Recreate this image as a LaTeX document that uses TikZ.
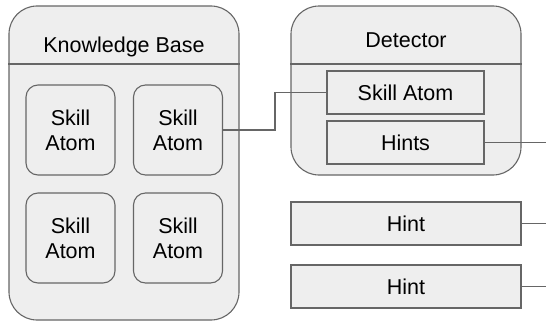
\documentclass[tikz,border=0pt]{standalone}
\usepackage{fontspec}
\setmainfont{Liberation Sans}
\definecolor{boxfill}{HTML}{EEEEEE}
\definecolor{linegray}{HTML}{666666}
\begin{document}
\begin{tikzpicture}[x=1pt,y=-1pt,
  label text/.style={font=\fontsize{21.5}{25}\selectfont, text=black},
  frame/.style={draw=linegray, fill=boxfill, line width=1.1pt},
  container/.style={frame, rounded corners=28pt, inner sep=0pt, minimum width=230pt},
  atom/.style={frame, label text, rounded corners=12pt, minimum width=89pt,
    minimum height=90pt, align=center, inner sep=0pt},
  slot/.style={frame, label text, minimum width=157pt, minimum height=43pt, inner sep=0pt},
  hintbar/.style={frame, label text, minimum width=230pt, minimum height=43pt, inner sep=0pt},
  divider/.style={draw=linegray, line width=1.1pt},
  wire/.style={draw=linegray, line width=1.1pt}]

\useasboundingbox (0,0) rectangle (546,324);

% reference coordinates for the header rules and wire routing
\coordinate (headrule) at (0,64);
\coordinate (route) at (275,0);
\coordinate (rightedge) at (546,0);

% Knowledge Base container
\node[container, minimum height=314pt] (kb) at (124,163) {};
\draw[divider] (kb.west |- headrule) -- (kb.east |- headrule);
\node[label text, anchor=base] (kbtitle) at (124,52) {Knowledge Base};

\node[atom] (a1) at (70.5,130) {Skill\\Atom};
\node[atom] (a2) at (178,130) {Skill\\Atom};
\node[atom] (a3) at (70.5,238) {Skill\\Atom};
\node[atom] (a4) at (178,238) {Skill\\Atom};

% Detector container
\node[container, minimum height=169pt] (det) at (406,90.5) {};
\draw[divider] (det.west |- headrule) -- (det.east |- headrule);
\node[label text, anchor=base] (dettitle) at (406,47) {Detector};

\node[slot] (dskill) at (405.5,92.5) {Skill Atom};
\node[slot] (dhints) at (405.5,142.5) {Hints};

% stand-alone hints
\node[hintbar] (h1) at (406,223.5) {Hint};
\node[hintbar] (h2) at (406,286.5) {Hint};

% connectors
\draw[wire] (a2.east) -| (route |- dskill.west) -- (dskill.west);
\draw[wire] (dhints.east) -- (dhints.east -| rightedge);
\draw[wire] (h1.east) -- (h1.east -| rightedge);
\draw[wire] (h2.east) -- (h2.east -| rightedge);

\end{tikzpicture}
\end{document}
